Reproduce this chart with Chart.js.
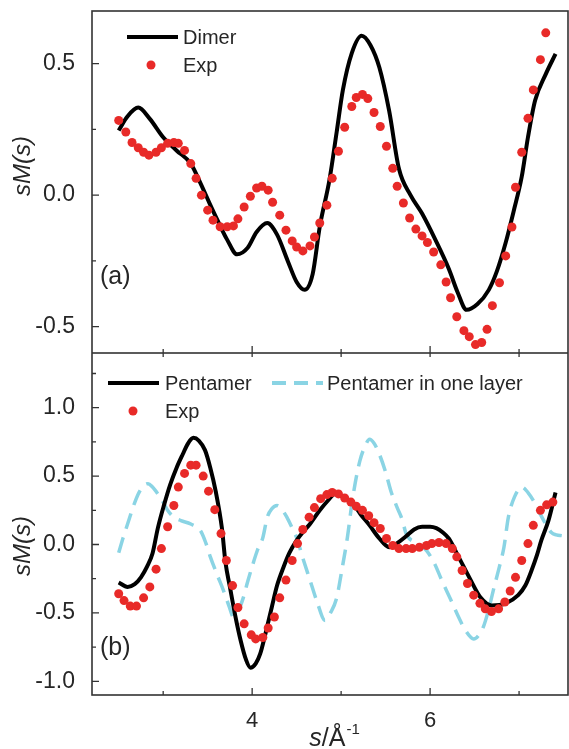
<!DOCTYPE html>
<html>
<head>
<meta charset="utf-8">
<script src="https://cdn.jsdelivr.net/npm/chart.js@4"></script>
<style>
  html, body { margin: 0; padding: 0; background: #fff; }
  #wrap { position: relative; width: 569px; height: 749px; }
  canvas { position: absolute; left: 0; }
</style>
</head>
<body>
<div id="wrap">
  <canvas id="panelA" width="569" height="353" style="top:0"></canvas>
  <canvas id="panelB" width="569" height="396" style="top:353px"></canvas>
</div>
<script>
// ---- panel (a) ----
var dimerS = [2.50,2.60,2.72,2.85,3.00,3.15,3.31,3.42,3.52,3.61,3.72,3.83,3.95,4.05,4.17,4.28,4.40,4.50,4.59,4.68,4.76,4.87,4.95,5.02,5.12,5.23,5.33,5.43,5.54,5.65,5.78,5.91,6.06,6.21,6.31,6.41,6.53,6.66,6.75,6.85,6.94,7.03,7.10,7.18,7.30,7.41];
var dimerV = [0.246,0.30,0.333,0.29,0.22,0.17,0.12,0.045,-0.03,-0.095,-0.17,-0.225,-0.20,-0.14,-0.106,-0.15,-0.25,-0.33,-0.36,-0.30,-0.12,0.06,0.24,0.40,0.54,0.606,0.57,0.485,0.32,0.10,0.0,-0.07,-0.17,-0.28,-0.37,-0.436,-0.415,-0.36,-0.29,-0.18,-0.06,0.07,0.22,0.36,0.46,0.537];

var expAS = [2.50,2.58,2.65,2.72,2.78,2.84,2.92,2.98,3.05,3.12,3.17,3.24,3.31,3.37,3.43,3.50,3.56,3.64,3.72,3.79,3.84,3.91,3.98,4.05,4.11,4.18,4.23,4.31,4.38,4.45,4.50,4.57,4.65,4.70,4.76,4.84,4.90,4.97,5.04,5.12,5.17,5.24,5.30,5.37,5.44,5.51,5.58,5.63,5.70,5.77,5.84,5.91,5.97,6.04,6.12,6.18,6.23,6.30,6.38,6.44,6.51,6.58,6.64,6.70,6.78,6.85,6.92,6.96,7.03,7.10,7.16,7.24,7.30];
var expAV = [0.284,0.24,0.20,0.18,0.163,0.152,0.163,0.18,0.197,0.20,0.197,0.17,0.12,0.064,0.0,-0.057,-0.095,-0.12,-0.12,-0.117,-0.09,-0.045,-0.004,0.027,0.034,0.019,-0.027,-0.076,-0.133,-0.174,-0.197,-0.212,-0.193,-0.159,-0.106,-0.038,0.064,0.167,0.258,0.337,0.371,0.383,0.367,0.314,0.261,0.186,0.102,0.034,-0.03,-0.087,-0.129,-0.155,-0.18,-0.216,-0.265,-0.33,-0.39,-0.462,-0.515,-0.538,-0.568,-0.56,-0.51,-0.42,-0.333,-0.231,-0.121,0.03,0.163,0.292,0.40,0.515,0.617];

// ---- panel (b) ----
var pentS = [2.50,2.60,2.68,2.75,2.82,2.88,2.94,3.01,3.08,3.15,3.22,3.28,3.34,3.40,3.47,3.53,3.59,3.66,3.70,3.75,3.81,3.87,3.93,3.98,4.04,4.09,4.15,4.22,4.28,4.35,4.42,4.50,4.57,4.65,4.76,4.85,4.93,5.02,5.13,5.22,5.32,5.43,5.54,5.63,5.73,5.82,5.91,6.00,6.07,6.14,6.21,6.32,6.44,6.57,6.69,6.85,6.99,7.07,7.14,7.20,7.25,7.33,7.41];
var pentV = [-0.277,-0.31,-0.29,-0.24,-0.16,-0.066,0.12,0.29,0.44,0.56,0.66,0.74,0.78,0.76,0.69,0.56,0.39,0.12,-0.13,-0.31,-0.52,-0.70,-0.84,-0.90,-0.87,-0.80,-0.65,-0.46,-0.30,-0.17,-0.06,0.03,0.09,0.15,0.25,0.32,0.37,0.35,0.30,0.22,0.14,0.044,-0.02,0.01,0.06,0.11,0.13,0.13,0.12,0.09,0.044,-0.09,-0.24,-0.39,-0.445,-0.43,-0.37,-0.30,-0.19,-0.08,0.03,0.175,0.38];

var layerS = [2.50,2.55,2.60,2.66,2.72,2.78,2.83,2.88,2.94,3.00,3.05,3.12,3.20,3.31,3.42,3.48,3.53,3.60,3.68,3.74,3.79,3.84,3.90,3.95,4.01,4.06,4.12,4.17,4.22,4.28,4.33,4.39,4.45,4.50,4.57,4.65,4.73,4.82,4.88,4.95,5.01,5.07,5.13,5.21,5.27,5.32,5.37,5.43,5.50,5.56,5.63,5.69,5.73,5.85,5.96,6.05,6.13,6.23,6.32,6.40,6.49,6.55,6.60,6.66,6.72,6.78,6.83,6.88,6.95,7.03,7.10,7.18,7.24,7.30,7.36,7.42,7.48];
var layerV = [-0.06,0.05,0.15,0.27,0.37,0.43,0.445,0.42,0.37,0.31,0.25,0.20,0.175,0.15,0.10,0.01,-0.09,-0.21,-0.34,-0.45,-0.53,-0.49,-0.39,-0.27,-0.14,-0.04,0.05,0.20,0.26,0.285,0.26,0.20,0.12,0.05,-0.10,-0.26,-0.42,-0.555,-0.50,-0.39,-0.18,0.05,0.34,0.61,0.72,0.77,0.74,0.66,0.53,0.39,0.27,0.175,0.08,0.01,-0.044,-0.14,-0.26,-0.40,-0.53,-0.63,-0.69,-0.66,-0.60,-0.47,-0.31,-0.16,-0.02,0.20,0.35,0.42,0.38,0.30,0.22,0.15,0.09,0.07,0.065];

var expBS = [2.50,2.56,2.63,2.70,2.78,2.85,2.92,2.98,3.05,3.12,3.17,3.24,3.31,3.37,3.45,3.51,3.58,3.65,3.71,3.78,3.84,3.91,3.99,4.04,4.12,4.18,4.25,4.31,4.38,4.45,4.51,4.57,4.64,4.70,4.77,4.84,4.90,4.97,5.04,5.11,5.17,5.24,5.31,5.37,5.44,5.51,5.58,5.65,5.73,5.80,5.88,5.96,6.02,6.10,6.18,6.25,6.30,6.36,6.42,6.49,6.56,6.62,6.69,6.77,6.84,6.90,6.96,7.03,7.10,7.16,7.24,7.31,7.38];
var expBV = [-0.36,-0.41,-0.45,-0.45,-0.39,-0.31,-0.18,-0.03,0.13,0.285,0.42,0.52,0.58,0.58,0.50,0.39,0.255,0.08,-0.117,-0.30,-0.46,-0.58,-0.66,-0.69,-0.68,-0.61,-0.53,-0.39,-0.26,-0.117,0.007,0.11,0.20,0.27,0.335,0.365,0.38,0.37,0.34,0.31,0.28,0.25,0.21,0.16,0.117,0.044,-0.007,-0.03,-0.03,-0.03,-0.02,-0.007,0.007,0.015,0.007,-0.03,-0.09,-0.19,-0.285,-0.37,-0.43,-0.47,-0.49,-0.47,-0.42,-0.34,-0.24,-0.117,0.007,0.14,0.25,0.29,0.31];

// axes
var xMin = 2.2, xMax = 7.55;
var xTicks = [4, 6];
var xMinor = [3, 5, 7];
var yTicksA = [-0.5, 0.0, 0.5];
var yMinorA = [-0.25, 0.25];
var yTicksB = [-1.0, -0.5, 0.0, 0.5, 1.0];
var yMinorB = [-0.75, -0.25, 0.25, 0.75, 1.25];

var FONT = "'Liberation Sans', Arial, sans-serif";
var TXT = '#262626';
var RED = 'rgb(232,42,40)';
var CYAN = 'rgb(138,212,228)';

function pts(xs, ys) {
  return xs.map(function (x, i) { return { x: x, y: ys[i] }; });
}

// no automatic label overflow padding, the frame is placed by hand
function noPad(s) {
  s.paddingTop = 0; s.paddingBottom = 0; s.paddingLeft = 0; s.paddingRight = 0;
}

// frame + inward ticks + legend + labels
var framePlugin = {
  id: 'frame',
  afterDraw: function (chart, args, o) {
    var c = chart.ctx, a = chart.chartArea;
    var xs = chart.scales.x, ys = chart.scales.y;
    c.save();
    c.strokeStyle = '#333';
    c.lineWidth = 1.6;
    c.strokeRect(a.left, a.top, a.right - a.left, a.bottom - a.top);
    c.lineWidth = 1.3;
    c.beginPath();
    o.yMajor.forEach(function (v) { var p = ys.getPixelForValue(v); c.moveTo(a.left, p); c.lineTo(a.left + 7, p); });
    o.yMinor.forEach(function (v) { var p = ys.getPixelForValue(v); c.moveTo(a.left, p); c.lineTo(a.left + 4, p); });
    xTicks.forEach(function (v) { var p = xs.getPixelForValue(v); c.moveTo(p, a.bottom); c.lineTo(p, a.bottom - 7); });
    xMinor.forEach(function (v) { var p = xs.getPixelForValue(v); c.moveTo(p, a.bottom); c.lineTo(p, a.bottom - 4); });
    if (o.topTicks) {
      xTicks.concat(xMinor).forEach(function (v) { var p = xs.getPixelForValue(v); c.moveTo(p, a.top); c.lineTo(p, a.top + 4); });
    }
    c.stroke();

    // legend
    c.textBaseline = 'middle';
    c.textAlign = 'left';
    c.font = '20px ' + FONT;
    o.legend.forEach(function (it) {
      if (it.kind === 'dot') {
        c.fillStyle = RED;
        c.beginPath(); c.arc(it.x + 25, it.y, 4.5, 0, Math.PI * 2); c.fill();
      } else {
        c.strokeStyle = it.color;
        c.lineWidth = 4;
        c.setLineDash(it.dash || []);
        c.beginPath(); c.moveTo(it.x, it.y); c.lineTo(it.x + 51, it.y); c.stroke();
        c.setLineDash([]);
      }
      c.fillStyle = TXT;
      c.fillText(it.text, it.tx, it.y + 1);
    });

    // panel label
    c.font = '25px ' + FONT;
    c.fillText(o.panel, 100, o.panelY);

    // y title
    c.translate(23, o.titleY);
    c.rotate(-Math.PI / 2);
    c.textAlign = 'center';
    c.font = 'italic 24px ' + FONT;
    c.fillText('sM(s)', 0, 0);
    c.restore();

    if (o.xTitle) {
      c.save();
      c.fillStyle = TXT;
      c.textBaseline = 'alphabetic';
      var cx = (a.left + a.right) / 2 + 4, by = 393;
      c.font = 'italic 25px ' + FONT; var w1 = c.measureText('s').width;
      c.font = '25px ' + FONT; var w2 = c.measureText('/Å').width;
      c.font = '15px ' + FONT; var w3 = c.measureText('-1').width;
      var x0 = cx - (w1 + w2 + w3) / 2;
      c.font = 'italic 25px ' + FONT; c.fillText('s', x0, by);
      c.font = '25px ' + FONT; c.fillText('/Å', x0 + w1, by);
      c.font = '15px ' + FONT; c.fillText('-1', x0 + w1 + w2 + 1, by - 12);
      c.restore();
    }
  }
};

function yAxis(min, max, ticks) {
  return {
    min: min, max: max,
    afterFit: function (s) { s.width = 92; noPad(s); },
    afterBuildTicks: function (s) { s.ticks = ticks.map(function (v) { return { value: v }; }); },
    grid: { display: false },
    border: { display: false },
    ticks: {
      padding: 9, color: TXT,
      font: { family: FONT, size: 23 },
      callback: function (v) { return v.toFixed(1); }
    }
  };
}

function lineSet(label, xs, ys, color, dash) {
  return {
    label: label, data: pts(xs, ys), type: 'line',
    borderColor: color, borderWidth: dash ? 3.5 : 4, borderDash: dash || [],
    pointRadius: 0, fill: false, cubicInterpolationMode: 'monotone', order: 2
  };
}

function dotSet(label, xs, ys) {
  return {
    label: label, data: pts(xs, ys), type: 'scatter',
    backgroundColor: RED, borderColor: RED, pointRadius: 4.5, borderWidth: 0, order: 1
  };
}

new Chart(document.getElementById('panelA'), {
  type: 'scatter',
  data: {
    datasets: [
      lineSet('Dimer', dimerS, dimerV, '#000'),
      dotSet('Exp', expAS, expAV)
    ]
  },
  options: {
    responsive: false, animation: false, devicePixelRatio: 1,
    layout: { autoPadding: false, padding: { top: 11, right: 1, bottom: 0, left: 0 } },
    plugins: {
      legend: { display: false }, tooltip: { enabled: false },
      frame: {
        yMajor: yTicksA, yMinor: yMinorA, topTicks: false,
        panel: '(a)', panelY: 277, titleY: 166,
        legend: [
          { kind: 'line', color: '#000', x: 127, y: 37, text: 'Dimer', tx: 183 },
          { kind: 'dot', x: 126, y: 65, text: 'Exp', tx: 183 }
        ]
      }
    },
    scales: {
      x: { type: 'linear', min: xMin, max: xMax, display: false, afterFit: noPad },
      y: yAxis(-0.6, 0.7, yTicksA)
    }
  },
  plugins: [framePlugin]
});

new Chart(document.getElementById('panelB'), {
  type: 'scatter',
  data: {
    datasets: [
      lineSet('Pentamer', pentS, pentV, '#000'),
      lineSet('Pentamer in one layer', layerS, layerV, CYAN, [16, 9]),
      dotSet('Exp', expBS, expBV)
    ]
  },
  options: {
    responsive: false, animation: false, devicePixelRatio: 1,
    layout: { autoPadding: false, padding: { top: 0, right: 1, bottom: 0, left: 0 } },
    plugins: {
      legend: { display: false }, tooltip: { enabled: false },
      frame: {
        yMajor: yTicksB, yMinor: yMinorB, topTicks: true, xTitle: true,
        panel: '(b)', panelY: 295, titleY: 193,
        legend: [
          { kind: 'line', color: '#000', x: 108, y: 30, text: 'Pentamer', tx: 165 },
          { kind: 'line', color: CYAN, dash: [14, 8], x: 272, y: 30, text: 'Pentamer in one layer', tx: 327 },
          { kind: 'dot', x: 108, y: 58, text: 'Exp', tx: 165 }
        ]
      }
    },
    scales: {
      x: {
        type: 'linear', min: xMin, max: xMax,
        afterFit: function (s) { s.height = 54; noPad(s); },
        afterBuildTicks: function (s) { s.ticks = xTicks.map(function (v) { return { value: v }; }); },
        grid: { display: false },
        border: { display: false },
        ticks: { padding: 5, color: TXT, font: { family: FONT, size: 22 }, maxRotation: 0, callback: function (v) { return String(v); } }
      },
      y: yAxis(-1.1, 1.4, yTicksB)
    }
  },
  plugins: [framePlugin]
});
</script>
</body>
</html>
